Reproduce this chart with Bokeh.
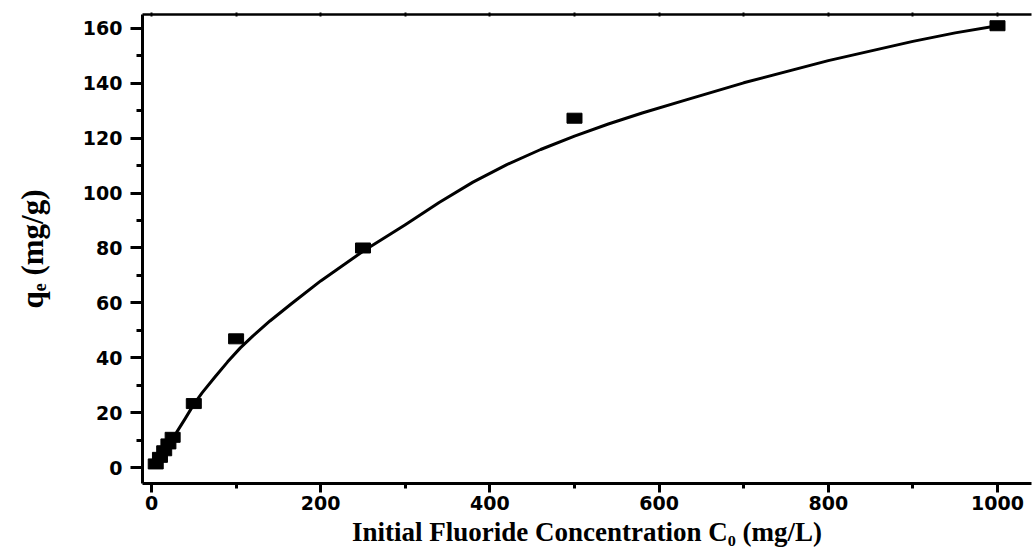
from bokeh.plotting import figure
from bokeh.models import (Range1d, SingleIntervalTicker, LinearAxis,
                          ColumnDataSource, CustomJSTickFormatter)
from bokeh.embed import file_html
from bokeh.resources import INLINE

# ---- data ----
c0 = [5, 10, 15, 20, 25, 50, 100, 250, 500, 1000]
qe = [1.3, 3.7, 6.1, 8.6, 11.0, 23.3, 46.9, 80.0, 127.3, 161.0]

fit_c = [5, 10, 20, 30, 40, 50, 60, 75, 90, 105, 120, 140, 165, 200, 250,
         300, 340, 380, 420, 460, 500, 540, 580, 630, 700, 800, 900, 950, 1000]
fit_q = [1.6, 3.9, 8.5, 13.0, 17.9, 23.0, 27.3, 33.0, 38.5, 43.6, 48.0, 53.4,
         59.6, 68.0, 78.8, 88.5, 96.6, 104.0, 110.4, 115.9, 120.8, 125.2,
         129.2, 133.8, 140.2, 148.3, 155.3, 158.4, 161.0]

x_title = "Initial Fluoride Concentration C\u2080 (mg/L)"
y_title = "q\u2091 (mg/g)"

TICK_FONT = "DejaVu Sans"
LABEL_FONT = "Liberation Serif"

p = figure(width=1032, height=554, output_backend="svg", toolbar_location=None,
           x_range=Range1d(-10.64, 1040.2), y_range=Range1d(-5.83, 165.1),
           min_border_left=142, min_border_right=1, min_border_top=14,
           min_border_bottom=71)
p.grid.visible = False
p.outline_line_color = None
p.background_fill_color = "white"
p.border_fill_color = "white"

# axes
p.xaxis.ticker = SingleIntervalTicker(interval=200, num_minor_ticks=2)
p.yaxis.ticker = SingleIntervalTicker(interval=20, num_minor_ticks=2)
for ax in (p.xaxis[0], p.yaxis[0]):
    ax.axis_line_width = 3
    ax.axis_line_color = "black"
    ax.major_tick_line_width = 3
    ax.minor_tick_line_width = 3
    ax.major_tick_in = 0
    ax.minor_tick_in = 0
    ax.major_label_text_font = TICK_FONT
    ax.major_label_text_font_style = "bold"
    ax.major_label_text_font_size = "19px"
    ax.major_label_text_color = "black"
    ax.axis_label_text_font = LABEL_FONT
    ax.axis_label_text_font_style = "bold"
    ax.axis_label_text_color = "black"
p.xaxis.major_tick_out = 9
p.xaxis.minor_tick_out = 5
p.xaxis.major_label_standoff = 3
p.xaxis.axis_label = x_title
p.xaxis.axis_label_text_font_size = "27px"
p.xaxis.axis_label_standoff = 4
p.yaxis.major_tick_out = 12
p.yaxis.minor_tick_out = 6
p.yaxis.major_label_standoff = 8
p.yaxis.axis_label = y_title
p.yaxis.axis_label_text_font_size = "31px"
p.yaxis.axis_label_standoff = 30

top = LinearAxis(ticker=SingleIntervalTicker(interval=100, num_minor_ticks=0),
                 formatter=CustomJSTickFormatter(code="return ''"),
                 axis_line_width=2.5, major_tick_in=2, major_tick_out=2,
                 major_tick_line_width=2, minor_tick_line_color=None,
                 major_label_standoff=0, major_label_text_font_size="1px")
p.add_layout(top, "above")

# data
src = ColumnDataSource(dict(c=c0, q=qe))
fit = ColumnDataSource(dict(c=fit_c, q=fit_q))
p.line("c", "q", source=fit, line_color="black", line_width=3,
       line_join="round")
p.rect("c", "q", source=src, width=15, height=10, width_units="screen",
       height_units="screen", fill_color="black", line_color="black")

open("out.html", "w").write(file_html(p, INLINE))
